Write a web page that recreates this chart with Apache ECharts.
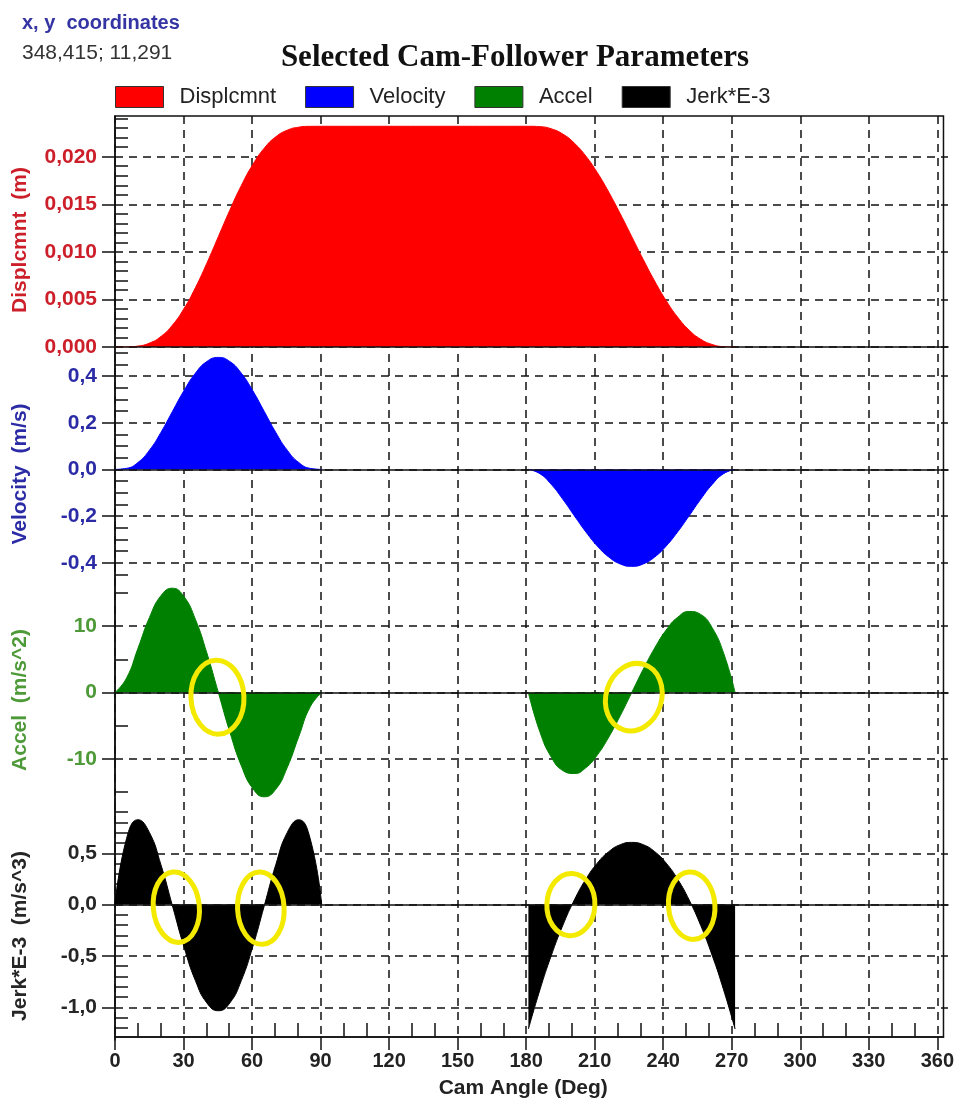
<!DOCTYPE html>
<html>
<head>
<meta charset="utf-8">
<title>Selected Cam-Follower Parameters</title>
<script src="https://cdn.jsdelivr.net/npm/echarts@6/dist/echarts.min.js"></script>
<style>
  html, body { margin: 0; padding: 0; background: #ffffff; }
  #chart { width: 957px; height: 1104px; }
</style>
</head>
<body>
<div id="chart"></div>
<script>
// ---- cam angles (deg) ----
const riseAngles   = [0, 5, 10, 15, 20, 25, 30, 35, 40, 45, 50, 55, 60, 65, 70, 75, 80, 85, 90];
const returnAngles = [180, 185, 190, 195, 200, 205, 210, 215, 220, 225, 230, 235, 240, 245, 250, 255, 260, 265, 270];

// ---- follower displacement (m) ----
const dispRise   = [0, 0.0000068, 0.000094, 0.000409, 0.001107, 0.002298, 0.004020, 0.006231, 0.008814, 0.011600,
                    0.014386, 0.016969, 0.019180, 0.020902, 0.022093, 0.022791, 0.023106, 0.023193, 0.023200];
const dispReturn = [0.023200, 0.023163, 0.022932, 0.022377, 0.021427, 0.020069, 0.018331, 0.016277, 0.013997, 0.011600,
                    0.009203, 0.006923, 0.004869, 0.003131, 0.001773, 0.000823, 0.000268, 0.000037, 0];

// ---- velocity (m/s) ----
const velRise   = [0, 0.0044, 0.0296, 0.0823, 0.1586, 0.2480, 0.3370, 0.4121, 0.4623, 0.4798,
                   0.4623, 0.4121, 0.3370, 0.2480, 0.1586, 0.0823, 0.0296, 0.0044, 0];
const velReturn = [0, -0.0183, -0.0648, -0.1282, -0.1986, -0.2675, -0.3282, -0.3754, -0.4052, -0.4154,
                   -0.4052, -0.3754, -0.3282, -0.2675, -0.1986, -0.1282, -0.0648, -0.0183, 0];

// ---- acceleration (m/s^2) ----
const accelRise   = [0, 2.15, 6.65, 11.28, 14.56, 15.69, 14.44, 11.01, 5.94, 0,
                     -5.94, -11.01, -14.44, -15.69, -14.56, -11.28, -6.65, -2.15, 0];
const accelReturn = [0, -5.92, -9.75, -11.75, -12.19, -11.32, -9.40, -6.70, -3.48, 0,
                     3.48, 6.70, 9.40, 11.32, 12.19, 11.75, 9.75, 5.92, 0];

// ---- jerk (x 1000 m/s^3) ----
const jerkRise   = [0, 0.641, 0.827, 0.702, 0.388, -0.011, -0.409, -0.740, -0.958, -1.034,
                    -0.958, -0.740, -0.409, -0.011, 0.388, 0.702, 0.827, 0.641, 0];
const jerkReturn = [-1.212, -0.831, -0.494, -0.202, 0.045, 0.247, 0.404, 0.516, 0.584, 0.606,
                    0.584, 0.516, 0.404, 0.247, 0.045, -0.202, -0.494, -0.831, -1.212];

// ---- highlighted zero crossings ----
const accelRingAngles = [44.6, 225.9];
const accelRingValues = [-0.7, -0.7];
const jerkRingAngles  = [26.7, 63.5, 198.5, 251.1];
const jerkRingValues  = [-0.025, -0.035, 0, -0.01];

// ---- tick labels ----
const angleTicks = [0, 30, 60, 90, 120, 150, 180, 210, 240, 270, 300, 330, 360];
const dispTicks  = [0, 0.005, 0.010, 0.015, 0.020];
const velTicks   = [-0.4, -0.2, 0, 0.2, 0.4];
const accelTicks = [-10, 0, 10];
const jerkTicks  = [-1.0, -0.5, 0, 0.5];

const seriesNames = ['Displcmnt', 'Velocity', 'Accel', 'Jerk*E-3'];

// ---- styling ----
const FONT = '"Liberation Sans", Arial, sans-serif';
const SERIF = '"Liberation Serif", "Times New Roman", serif';
const fillColors = ['#ff0000', '#0000ff', '#008000', '#000000'];
const labelColors = ['#cc1f2a', '#2b2ba6', '#4e9a38', '#262626'];
const ringColor = '#f4ea00';
// ring radii [rx, ry] in px and tilt in radians
const accelRingSize = [[26.5, 37, 0.05], [27.8, 34.2, -0.3]];
const jerkRingSize  = [[23, 35.3, 0.1], [23.3, 36.2, 0.05], [24, 31.2, -0.05], [23.2, 33.8, 0.08]];

const LEFT = 115, RIGHT = 9;
const X_MAX = 362.7;
const ink = '#111111';

function minorTicks(from, to, step, majorStep) {
  const out = [];
  const n = Math.round((to - from) / step);
  for (let i = 0; i <= n; i++) {
    const v = +(from + i * step).toFixed(6);
    const r = v / majorStep;
    if (Math.abs(r - Math.round(r)) > 1e-6) out.push(v);
  }
  return out;
}

// one horizontal band per quantity
const panels = [
  { top: 116, height: 231, min: 0,       max: 0.02428, ticks: dispTicks,  minor: minorTicks(0.001, 0.024, 0.001, 0.005), digits: 3, title: 'Displcmnt  (m)',      titleY: 240 },
  { top: 347, height: 236, min: -0.4867, max: 0.5244,  ticks: velTicks,   minor: minorTicks(-0.45, 0.5, 0.05, 0.2),      digits: 1, title: 'Velocity  (m/s)',     titleY: 474 },
  { top: 583, height: 217, min: -16.17,  max: 16.47,   ticks: accelTicks, minor: minorTicks(-15, 15, 5, 10),             digits: 0, title: 'Accel  (m/s^2)',      titleY: 700 },
  { top: 800, height: 240, min: -1.319,  max: 1.019,   ticks: jerkTicks,  minor: minorTicks(-1.2, 0.9, 0.1, 0.5),        digits: 1, title: 'Jerk*E-3  (m/s^3)',   titleY: 936 }
];

const pairs = (xs, ys) => xs.map((x, i) => [x, ys[i]]);

const grids = [{ left: LEFT, right: RIGHT, top: 116, height: 924, show: true, borderColor: ink, borderWidth: 1.5, backgroundColor: 'transparent' }];
panels.forEach(p => grids.push({ left: LEFT, right: RIGHT, top: p.top, height: p.height }));

const xAxes = [
  {
    type: 'value', gridIndex: 0, position: 'bottom', min: 0, max: X_MAX, interval: 30,
    name: 'Cam Angle (Deg)', nameLocation: 'middle', nameGap: 41,
    nameTextStyle: { fontFamily: FONT, fontSize: 21, fontWeight: 'bold', color: '#222', padding: [0, 12, 0, 0] },
    axisLine: { show: true, onZero: false, lineStyle: { color: ink, width: 1.5 } },
    axisTick: { show: true, inside: false, length: 13, customValues: angleTicks, lineStyle: { color: ink, width: 1.5 } },
    axisLabel: { show: true, margin: 14, customValues: angleTicks, fontFamily: FONT, fontSize: 20, fontWeight: 'bold', color: '#222' },
    splitLine: { show: true, lineStyle: { color: ink, width: 1.5, type: [8, 6] } }
  },
  {
    type: 'value', gridIndex: 0, position: 'bottom', min: 0, max: X_MAX, interval: 10,
    axisLine: { show: false },
    axisTick: { show: true, inside: true, length: 14, customValues: minorTicks(10, 360, 10, 30), lineStyle: { color: ink, width: 1.5 } },
    axisLabel: { show: false },
    splitLine: { show: false }
  }
];
panels.forEach((p, i) => xAxes.push({
  type: 'value', gridIndex: i + 1, min: 0, max: X_MAX, z: 5,
  axisLine: { show: true, onZero: true, lineStyle: { color: ink, width: 1.6 } },
  axisTick: { show: false }, axisLabel: { show: false }, splitLine: { show: false }
}));

const yAxes = [{ type: 'value', gridIndex: 0, min: 0, max: 1, show: false }];
panels.forEach((p, i) => {
  const step = p.ticks[1] - p.ticks[0];
  yAxes.push({
    type: 'value', gridIndex: i + 1, position: 'left', min: p.min, max: p.max, interval: step,
    axisLine: { show: true, onZero: false, lineStyle: { color: ink, width: 1.5 } },
    axisTick: { show: true, inside: false, length: 13, customValues: p.ticks, lineStyle: { color: ink, width: 1.5 } },
    axisLabel: {
      show: true, margin: 18, customValues: p.ticks,
      fontFamily: FONT, fontSize: 21, fontWeight: 'bold', color: labelColors[i],
      formatter: v => Number(v).toFixed(p.digits).replace('.', ',')
    },
    splitLine: { show: true, lineStyle: { color: ink, width: 1.5, type: [8, 6] } }
  });
  yAxes.push({
    type: 'value', gridIndex: i + 1, position: 'left', min: p.min, max: p.max,
    axisLine: { show: false },
    axisTick: { show: true, inside: true, length: 13, customValues: p.minor, lineStyle: { color: ink, width: 1.5 } },
    axisLabel: { show: false },
    splitLine: { show: false }
  });
});

function areaSeries(name, idx, data) {
  return {
    name, type: 'line', xAxisIndex: idx + 2, yAxisIndex: 1 + idx * 2,
    data, smooth: 0.5, showSymbol: false, symbol: 'none', silent: true,
    itemStyle: { color: fillColors[idx] },
    lineStyle: { color: fillColors[idx], width: 1 },
    areaStyle: { color: fillColors[idx], opacity: 1 },
    z: 2
  };
}

function ringSeries(idx, xs, ys, sizes) {
  return {
    type: 'custom', xAxisIndex: idx + 2, yAxisIndex: 1 + idx * 2, silent: true, clip: false, z: 10,
    data: xs.map((x, i) => [x, ys[i], i]),
    renderItem: (params, api) => {
      const c = api.coord([api.value(0), api.value(1)]);
      const s = sizes[api.value(2)];
      return {
        type: 'ellipse', x: c[0], y: c[1], rotation: s[2],
        shape: { cx: 0, cy: 0, rx: s[0], ry: s[1] },
        style: { fill: 'none', stroke: ringColor, lineWidth: 5 }
      };
    }
  };
}

const series = [
  areaSeries('Displcmnt', 0, pairs(riseAngles, dispRise).concat(pairs(returnAngles, dispReturn))),
  areaSeries('Velocity', 1, pairs(riseAngles, velRise)),
  areaSeries('Velocity', 1, pairs(returnAngles, velReturn)),
  areaSeries('Accel', 2, pairs(riseAngles, accelRise)),
  areaSeries('Accel', 2, pairs(returnAngles, accelReturn)),
  areaSeries('Jerk*E-3', 3, pairs(riseAngles, jerkRise)),
  areaSeries('Jerk*E-3', 3, pairs(returnAngles, jerkReturn)),
  ringSeries(2, accelRingAngles, accelRingValues, accelRingSize),
  ringSeries(3, jerkRingAngles, jerkRingValues, jerkRingSize)
];

const graphics = [
  { type: 'text', x: 22, y: 23, style: { text: 'x, y  coordinates', fill: '#3434a4', font: 'bold 20px ' + FONT, textAlign: 'left', textVerticalAlign: 'middle', align: 'left', verticalAlign: 'middle' } },
  { type: 'text', x: 22, y: 53, style: { text: '348,415; 11,291', fill: '#333333', font: '21px ' + FONT, textAlign: 'left', textVerticalAlign: 'middle', align: 'left', verticalAlign: 'middle' } }
];
panels.forEach((p, i) => graphics.push({
  type: 'text', x: 20, y: p.titleY, rotation: Math.PI / 2,
  style: { text: p.title, fill: labelColors[i], font: 'bold 21px ' + FONT, textAlign: 'center', textVerticalAlign: 'middle', align: 'center', verticalAlign: 'middle' }
}));

const chart = echarts.init(document.getElementById('chart'), null, { renderer: 'canvas' });
chart.setOption({
  backgroundColor: '#ffffff',
  animation: false,
  title: {
    text: 'Selected Cam-Follower Parameters', left: 510, top: 37, textAlign: 'center',
    textStyle: { fontFamily: SERIF, fontSize: 31, fontWeight: 'bold', color: '#111' }
  },
  legend: {
    left: 115, top: 86, padding: 0, itemWidth: 48, itemHeight: 21, itemGap: 29, icon: 'rect', selectedMode: false,
    textStyle: { fontFamily: FONT, fontSize: 22, color: '#222', padding: [0, 0, 0, 11] },
    data: seriesNames.map((n, i) => ({ name: n, itemStyle: { color: fillColors[i], borderColor: '#333', borderWidth: 1 } }))
  },
  grid: grids,
  xAxis: xAxes,
  yAxis: yAxes,
  series: series,
  graphic: graphics
});
</script>
</body>
</html>
